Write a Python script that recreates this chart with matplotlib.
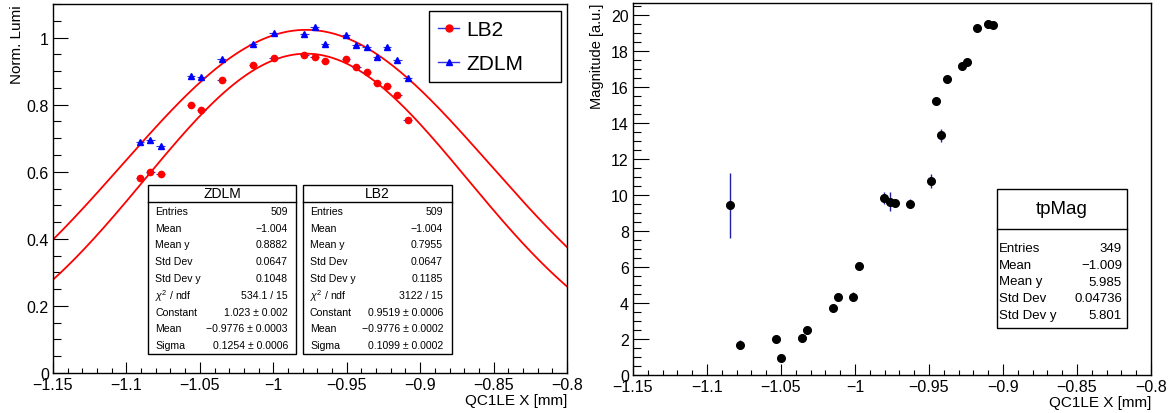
import numpy as np
import matplotlib
matplotlib.use('Agg')
from matplotlib import pyplot as plt
from matplotlib.patches import Rectangle
from matplotlib.lines import Line2D
from matplotlib.ticker import MultipleLocator

plt.rcParams['font.family'] = ['Liberation Sans', 'DejaVu Sans']
plt.rcParams['mathtext.fontset'] = 'custom'
plt.rcParams['mathtext.rm'] = 'Liberation Sans'
plt.rcParams['mathtext.it'] = 'Liberation Sans:italic'

W, H = 1175, 414

# ---- left panel: luminosity scan ----
lumi_x = [-1.0908, -1.0837, -1.0767, -1.056, -1.049, -1.035, -1.0138, -0.9997, -0.979,
          -0.9718, -0.9648, -0.9505, -0.9435, -0.9364, -0.9294, -0.9226, -0.9156, -0.9085]
lb2_y = [0.582, 0.598, 0.593, 0.800, 0.783, 0.872, 0.919, 0.940, 0.947,
         0.942, 0.930, 0.935, 0.913, 0.896, 0.864, 0.856, 0.828, 0.754]
zdlm_y = [0.689, 0.696, 0.676, 0.886, 0.881, 0.937, 0.980, 1.013, 1.010,
          1.031, 0.982, 1.009, 0.979, 0.972, 0.942, 0.971, 0.932, 0.878]
lumi_xerr = 0.003

# gaussian fit results (constant, mean, sigma)
zdlm_fit = (1.023, -0.9776, 0.1254)
lb2_fit = (0.9519, -0.9776, 0.1099)

zdlm_stats = [('Entries', '509'), ('Mean', '\u22121.004'), ('Mean y', '0.8882'),
              ('Std Dev', '0.0647'), ('Std Dev y', '0.1048'), (r'$\chi^{2}$ / ndf', '534.1 / 15'),
              ('Constant', '1.023 \u00b1 0.002'), ('Mean', '\u22120.9776 \u00b1 0.0003'),
              ('Sigma', '0.1254 \u00b1 0.0006')]
lb2_stats = [('Entries', '509'), ('Mean', '\u22121.004'), ('Mean y', '0.7955'),
             ('Std Dev', '0.0647'), ('Std Dev y', '0.1185'), (r'$\chi^{2}$ / ndf', '3122 / 15'),
             ('Constant', '0.9519 \u00b1 0.0006'), ('Mean', '\u22120.9776 \u00b1 0.0002'),
             ('Sigma', '0.1099 \u00b1 0.0002')]

# ---- right panel: magnitude ----
mag_x = [-1.0847, -1.0777, -1.0534, -1.0498, -1.036, -1.0324, -1.015, -1.0115, -1.0011,
         -0.9975, -0.9802, -0.9766, -0.9730, -0.9626, -0.9489, -0.9453, -0.9417, -0.9380,
         -0.9277, -0.9241, -0.9174, -0.9103, -0.9068]
mag_y = [9.41, 1.67, 1.98, 0.96, 2.06, 2.50, 3.72, 4.31, 4.35, 6.07, 9.83, 9.63, 9.56,
         9.52, 10.76, 15.2, 13.3, 16.44, 17.18, 17.35, 19.28, 19.48, 19.41]
mag_err = [1.83, 0.25, 0.1, 0.1, 0.1, 0.15, 0.1, 0.1, 0.25, 0.1, 0.32, 0.51, 0.1,
           0.24, 0.40, 0.1, 0.35, 0.1, 0.1, 0.1, 0.1, 0.1, 0.1]
tpmag_stats = [('Entries', '349'), ('Mean', '\u22121.009'), ('Mean y', '5.985'),
               ('Std Dev', '0.04736'), ('Std Dev y', '5.801')]


def fx(x):
    return x / W


def fy(y):
    return 1 - y / H


def style_axes(ax, xlen, ylen):
    for s in ax.spines.values():
        s.set_linewidth(1.0)
        s.set_color('black')
    ax.tick_params(which='both', direction='in', top=False, right=False,
                   labelsize=11.5, pad=3, width=0.8, color='black')
    ax.tick_params(axis='y', which='major', length=ylen)
    ax.tick_params(axis='y', which='minor', length=ylen / 2)
    ax.tick_params(axis='x', which='major', length=xlen)
    ax.tick_params(axis='x', which='minor', length=xlen / 2)
    ax.set_xlim(-1.15, -0.8)
    ax.xaxis.set_major_locator(MultipleLocator(0.05))
    ax.xaxis.set_minor_locator(MultipleLocator(0.01))
    ax.xaxis.set_major_formatter(plt.FuncFormatter(lambda v, p: ('%g' % round(v, 3)).replace('-', '\u2212')))


def stats_box(x0, y0, x1, y1, ydiv, title, tsize, rows, ry0, rdy, lx, vx, size):
    fig.add_artist(Rectangle((fx(x0), fy(y1)), fx(x1 - x0), (y1 - y0) / H,
                             transform=fig.transFigure, facecolor='white',
                             edgecolor='black', lw=1.0, zorder=5))
    fig.add_artist(Line2D([fx(x0), fx(x1)], [fy(ydiv), fy(ydiv)],
                          transform=fig.transFigure, color='black', lw=1.0, zorder=6))
    fig.text(fx((x0 + x1) / 2), fy((y0 + ydiv) / 2), title, ha='center', va='center',
             fontsize=tsize, zorder=7)
    for i, (lab, val) in enumerate(rows):
        yy = fy(ry0 + i * rdy)
        fig.text(fx(lx), yy, lab, ha='left', va='center', fontsize=size, zorder=7)
        fig.text(fx(vx), yy, val, ha='right', va='center', fontsize=size, zorder=7)


fig = plt.figure(figsize=(W / 100, H / 100), dpi=100)

# left panel
ax1 = fig.add_axes([fx(53), fy(374), (567 - 53) / W, (374 - 5) / H])
style_axes(ax1, 11 * 0.72, 15 * 0.72)
ax1.set_ylim(0, 1.1)
ax1.yaxis.set_major_locator(MultipleLocator(0.2))
ax1.yaxis.set_minor_locator(MultipleLocator(0.05))
ax1.yaxis.set_major_formatter(plt.FuncFormatter(lambda v, p: '%g' % round(v, 3)))

xx = np.linspace(-1.15, -0.8, 400)
for c, m, s in (zdlm_fit, lb2_fit):
    ax1.plot(xx, c * np.exp(-0.5 * ((xx - m) / s) ** 2), color='#ff0000', lw=1.3, zorder=2)

ax1.errorbar(lumi_x, lb2_y, xerr=lumi_xerr, fmt='o', color='#ff0000', ms=4.5,
             ecolor='#3030e0', elinewidth=0.8, capsize=0, zorder=3)
ax1.errorbar(lumi_x, zdlm_y, xerr=lumi_xerr, fmt='^', color='#0000ff', ms=4.5,
             ecolor='#3030e0', elinewidth=0.8, capsize=0, zorder=3)

ax1.set_ylabel('Norm. Lumi', loc='top', fontsize=11)
ax1.yaxis.set_label_coords(-0.057, 1.0)
ax1.set_xlabel('QC1LE X [mm]', loc='right', fontsize=11)
ax1.xaxis.set_label_coords(1.0, -0.055)

handles = [Line2D([], [], color='#3030e0', lw=1, marker='o', mfc='#ff0000', mec='#ff0000', ms=5),
           Line2D([], [], color='#3030e0', lw=1, marker='^', mfc='#0000ff', mec='#0000ff', ms=5)]
leg = ax1.legend(handles, ['LB2', 'ZDLM'], loc='upper left',
                 bbox_to_anchor=((429 - 53) / 514, 0.783, (561 - 429) / 514, 0.198),
                 mode='expand', borderaxespad=0, fontsize=15, handlelength=1.0,
                 handletextpad=0.35, labelspacing=0.7, borderpad=0.45,
                 fancybox=False, edgecolor='black', framealpha=1)
leg.get_frame().set_linewidth(1.0)

# right panel
ax2 = fig.add_axes([fx(633), fy(376), (1151 - 633) / W, (376 - 4) / H])
style_axes(ax2, 11 * 0.72, 15.5 * 0.72)
ax2.set_ylim(0, 20.65)
ax2.yaxis.set_major_locator(MultipleLocator(2))
ax2.yaxis.set_minor_locator(MultipleLocator(0.5))
ax2.errorbar(mag_x, mag_y, yerr=mag_err, fmt='o', color='black', ms=5.5,
             ecolor='#2020a0', elinewidth=1.0, capsize=0, zorder=3)
ax2.set_ylabel('Magnitude [a.u.]', loc='top', fontsize=10.5)
ax2.yaxis.set_label_coords(-0.056, 1.0)
ax2.set_xlabel('QC1LE X [mm]', loc='right', fontsize=11)
ax2.xaxis.set_label_coords(1.0, -0.054)

# stats boxes
stats_box(148, 186, 296, 355, 203, 'ZDLM', 10, zdlm_stats, 212, 16.75, 155, 288, 7.6)
stats_box(303, 186, 452, 355, 203, 'LB2', 10, lb2_stats, 212, 16.75, 310, 443, 7.6)
stats_box(997, 190, 1127, 329, 230, 'tpMag', 13.5, tpmag_stats, 249, 16.75, 999, 1122, 9.5)

fig.savefig('out.png', dpi=100)
